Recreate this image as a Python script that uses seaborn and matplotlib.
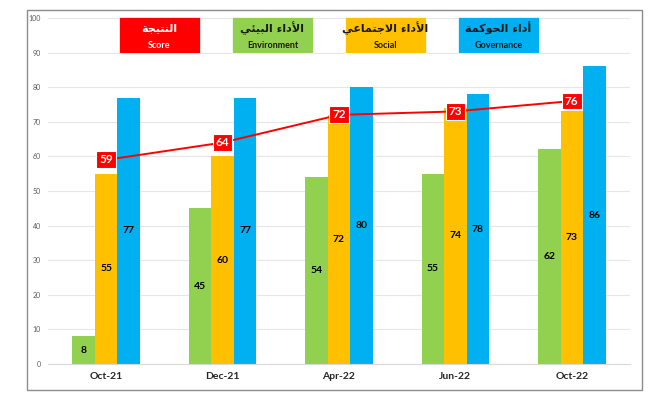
import matplotlib
matplotlib.use("Agg")
import matplotlib.pyplot as plt
import seaborn as sns
import pandas as pd
from matplotlib.patches import Rectangle

# ---------------- data ----------------
periods = ["Oct-21", "Dec-21", "Apr-22", "Jun-22", "Oct-22"]
environment = [8, 45, 54, 55, 62]
social = [55, 60, 72, 74, 73]
governance = [77, 77, 80, 78, 86]
score = [59, 64, 72, 73, 76]

series_en = ["Environment", "Social", "Governance"]
legend_ar = ["النتيجة", "الأداء البيئي", "الأداء الاجتماعي", "أداء الحوكمة"]
legend_en = ["Score", "Environment", "Social", "Governance"]

colors = {"Environment": "#92D050", "Social": "#FFC000", "Governance": "#00B0F0"}
red = "#FF0000"

# ---------------- simple Arabic shaping (visual order) ----------------
FORMS = {  # isolated, final, initial, medial
    'ا': ('\uFE8D', '\uFE8E', None, None),
    'أ': ('\uFE83', '\uFE84', None, None),
    'ء': ('\uFE80', None, None, None),
    'ب': ('\uFE8F', '\uFE90', '\uFE91', '\uFE92'),
    'ة': ('\uFE93', '\uFE94', None, None),
    'ت': ('\uFE95', '\uFE96', '\uFE97', '\uFE98'),
    'ج': ('\uFE9D', '\uFE9E', '\uFE9F', '\uFEA0'),
    'ح': ('\uFEA1', '\uFEA2', '\uFEA3', '\uFEA4'),
    'د': ('\uFEA9', '\uFEAA', None, None),
    'ع': ('\uFEC9', '\uFECA', '\uFECB', '\uFECC'),
    'ك': ('\uFED9', '\uFEDA', '\uFEDB', '\uFEDC'),
    'ل': ('\uFEDD', '\uFEDE', '\uFEDF', '\uFEE0'),
    'م': ('\uFEE1', '\uFEE2', '\uFEE3', '\uFEE4'),
    'ن': ('\uFEE5', '\uFEE6', '\uFEE7', '\uFEE8'),
    'و': ('\uFEED', '\uFEEE', None, None),
    'ي': ('\uFEF1', '\uFEF2', '\uFEF3', '\uFEF4'),
    'ئ': ('\uFE89', '\uFE8A', '\uFE8B', '\uFE8C'),
}
LAMALEF = {'ا': ('\uFEFB', '\uFEFC'), 'أ': ('\uFEF7', '\uFEF8')}


def shape_word(word):
    toks = []
    i = 0
    while i < len(word):
        c = word[i]
        if c == 'ل' and i + 1 < len(word) and word[i + 1] in LAMALEF:
            iso, fin = LAMALEF[word[i + 1]]
            toks.append((iso, fin, None, None))
            i += 2
        else:
            toks.append(FORMS.get(c, (c, None, None, None)))
            i += 1
    out = []
    for k, f in enumerate(toks):
        prev_joins = k > 0 and toks[k - 1][2] is not None and f[1] is not None
        next_joins = k + 1 < len(toks) and f[2] is not None and toks[k + 1][1] is not None
        if prev_joins and next_joins:
            out.append(f[3])
        elif prev_joins:
            out.append(f[1])
        elif next_joins:
            out.append(f[2])
        else:
            out.append(f[0])
    return "".join(out)


def ar(text):
    shaped = " ".join(shape_word(w) for w in text.split(" "))
    return shaped[::-1]


# ---------------- plot ----------------
sns.set_theme(style="white")
plt.rcParams["font.family"] = ["Lato", "DejaVu Sans"]

df = pd.DataFrame({
    "period": periods * 3,
    "series": [s for s in series_en for _ in periods],
    "value": environment + social + governance,
})

fig = plt.figure(figsize=(6.6, 4.0), dpi=100)
ax = fig.add_axes([48 / 660, 36 / 400, 582 / 660, 346 / 400])

sns.barplot(data=df, x="period", y="value", hue="series", order=periods,
            hue_order=series_en, palette=colors, width=0.58, saturation=1,
            ax=ax, legend=False, zorder=2, linewidth=0, edgecolor="none")

for cont in ax.containers:
    ax.bar_label(cont, fmt="%d", label_type="center", fontsize=7.5,
                 fontweight="bold", color="black")

sns.pointplot(x=periods, y=score, order=periods, color=red, markers="",
              linewidth=1.4, ax=ax, zorder=4)

for i, v in enumerate(score):
    ax.text(i, v, str(v), ha="center", va="center", fontsize=8.5,
            fontweight="bold", color="white", zorder=6,
            bbox=dict(boxstyle="square,pad=0.25", fc=red, ec="white", lw=0.8))

ax.set_xlim(-0.5, 4.5)
ax.set_ylim(0, 100)
ax.set_yticks(range(0, 101, 10))
ax.yaxis.grid(True, color="#E6E6E6", linewidth=0.8, zorder=0)
ax.set_axisbelow(True)
ax.tick_params(axis="y", labelsize=5, colors="#595959", length=0, pad=5)
ax.tick_params(axis="x", labelsize=7.5, length=0, pad=6)
for lab in ax.get_xticklabels():
    lab.set_fontweight("bold")
ax.set_xlabel("")
ax.set_ylabel("")
for s in ["top", "right", "left"]:
    ax.spines[s].set_visible(False)
ax.spines["bottom"].set_color("#D9D9D9")
ax.spines["bottom"].set_linewidth(0.8)

# legend boxes
box_x = [119, 232, 345, 458]
box_colors = [red, colors["Environment"], colors["Social"], colors["Governance"]]
text_colors = ["white", "#1a1a1a", "#1a1a1a", "#1a1a1a"]
bw, bh, btop = 81, 36, 17
for x0, c, tc, a_txt, e_txt in zip(box_x, box_colors, text_colors, legend_ar, legend_en):
    fig.add_artist(Rectangle((x0 / 660, (400 - btop - bh) / 400), bw / 660, bh / 400,
                             transform=fig.transFigure, facecolor=c,
                             edgecolor="white", linewidth=0.5, zorder=5))
    cx = (x0 + bw / 2) / 660
    fig.text(cx, (400 - 28) / 400, ar(a_txt), ha="center", va="center",
             fontsize=8, fontweight="bold", color=tc, family=["DejaVu Sans"], zorder=6)
    fig.text(cx, (400 - 45) / 400, e_txt, ha="center", va="center",
             fontsize=6.5, fontweight="bold", color=tc, zorder=6)

# outer border
fig.add_artist(Rectangle((27 / 660, 10 / 400), 615 / 660, 380 / 400,
                         transform=fig.transFigure, fill=False,
                         edgecolor="#8C8C8C", linewidth=1.0, zorder=10))

fig.savefig("out.png", dpi=100)
